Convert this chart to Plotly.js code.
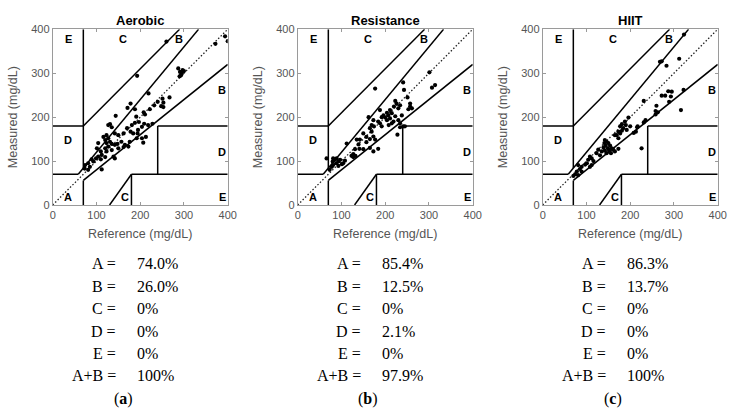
<!DOCTYPE html>
<html><head><meta charset="utf-8">
<script src="https://cdn.plot.ly/plotly-3.0.1.min.js"></script>
<style>html,body{margin:0;padding:0;background:#fff}#chart{width:736px;height:416px}</style>
</head><body><div id="chart"></div>
<script>
// ---- data ----
const panelTitles = ['Aerobic', 'Resistance', 'HIIT'];
const panelTags = ['a', 'b', 'c'];
const axisTicks = [0, 100, 200, 300, 400];

const aerobicRef = [260,193,372,394,400,287,291,295,293,297,290,300,219,251,240,253,248,232,222,253,178,171,188,208,211,144,191,188,197,181,209,204,218,228,131,135,127,170,178,184,194,195,162,150,142,204,207,213,192,123,127,116,120,131,135,123,148,157,165,176,173,162,150,142,127,120,104,101,110,123,135,112,104,99,110,120,89,93,81,85,74,73,112,81,142,139,267];
const aerobicMeas = [372,294,367,384,373,311,303,299,295,307,293,305,254,242,235,233,225,227,218,223,231,221,218,211,206,203,201,187,189,182,185,178,182,185,184,177,182,175,167,163,163,171,163,159,163,152,142,155,152,159,152,155,148,144,139,141,139,144,137,144,133,132,129,137,133,129,141,129,122,122,125,114,110,106,104,109,104,99,95,87,91,83,81,80,106,110,245];

const resistanceRef = [301,307,314,241,243,177,251,257,257,253,261,223,226,220,234,230,211,204,215,207,196,200,192,211,223,219,230,238,234,204,215,208,188,184,173,169,174,188,192,165,169,162,234,241,245,228,173,177,165,150,157,142,165,184,173,135,139,157,150,141,131,127,132,123,112,66,81,85,89,80,93,97,88,101,78,81,93,104,127,73,108];
const resistanceMeas = [302,267,273,279,262,265,245,231,224,218,220,237,231,224,227,220,216,210,209,204,204,199,200,197,202,190,193,204,186,193,186,182,216,190,193,182,179,186,179,175,167,200,177,179,179,160,156,149,150,163,155,149,130,128,122,149,138,143,127,128,127,116,112,112,140,106,106,103,106,99,99,103,95,93,87,91,89,95,109,80,101];

const hiitRef = [323,272,268,312,283,287,295,272,280,293,322,316,289,231,260,258,263,258,235,231,217,208,226,196,188,190,181,184,177,181,173,192,200,169,165,173,177,142,146,141,150,144,154,139,149,158,142,152,161,135,146,156,165,173,127,123,131,112,104,108,116,101,97,89,81,85,78,74,81,70,89,108,112,213,216];
const hiitMeas = [388,327,326,333,317,259,258,249,249,247,262,216,235,237,226,214,211,206,193,188,179,164,129,199,190,182,184,175,179,169,167,171,179,159,159,152,163,148,144,141,141,135,135,131,129,129,124,124,126,122,118,118,122,128,126,118,113,106,103,110,100,95,92,87,91,82,76,70,68,66,76,87,91,167,177];

// Clarke error grid boundaries (segments separated by null)
const gridX = [0,58.33,null,58.33,333.33,null,70,70,null,0,70,null,70,290,null,70,70,null,70,400,null,180,180,null,180,400,null,240,240,null,240,400,null,130,180];
const gridY = [70,70,null,70,400,null,84,400,null,180,180,null,180,400,null,0,56,null,56,320,null,0,70,null,70,70,null,70,180,null,180,180,null,0,70];
const diagX = [0, 400];
const diagY = [0, 400];

const zoneLabelText = ['A','C','E','D','D','B','B','C','E'];
const zoneLabelX = [35,166,388,35,388,388,289,160,36];
const zoneLabelY = [18,18,18,148,120,262,377,377,377];

const statLabels = ['A =','B =','C =','D =','E =','A+B ='];
const aerobicStats = ['74.0%','26.0%','0%','0%','0%','100%'];
const resistanceStats = ['85.4%','12.5%','0%','2.1%','0%','97.9%'];
const hiitStats = ['86.3%','13.7%','0%','0%','0%','100%'];

// ---- build ----
const W = 736, H = 416;
const panels = [
  {ref: aerobicRef, meas: aerobicMeas, stats: aerobicStats, x0: 52.7},
  {ref: resistanceRef, meas: resistanceMeas, stats: resistanceStats, x0: 297.7},
  {ref: hiitRef, meas: hiitMeas, stats: hiitStats, x0: 542.7}
];
const plotW = 175, plotTop = 29.3, plotBot = 205;
const statRows = [263, 286, 308, 331, 353, 375];
const tagRow = 399;
const serif = 'Liberation Serif, Times New Roman, serif';
const sans = 'Liberation Sans, Arial, sans-serif';

const traces = [];
const annotations = [];
const layout = {
  width: W, height: H,
  margin: {l: 0, r: 0, t: 0, b: 0},
  paper_bgcolor: '#fff', plot_bgcolor: '#fff',
  showlegend: false,
  font: {family: sans, color: '#555'},
  annotations: annotations
};

panels.forEach((p, i) => {
  const sfx = i === 0 ? '' : String(i + 1);
  const xa = 'x' + sfx, ya = 'y' + sfx;
  traces.push({x: diagX, y: diagY, xaxis: xa, yaxis: ya, mode: 'lines',
    line: {color: '#222', width: 1.3, dash: '1.5px,2px'}, hoverinfo: 'skip'});
  traces.push({x: gridX, y: gridY, xaxis: xa, yaxis: ya, mode: 'lines',
    line: {color: '#000', width: 1.5}, connectgaps: false, hoverinfo: 'skip'});
  traces.push({x: p.ref, y: p.meas, xaxis: xa, yaxis: ya, mode: 'markers',
    marker: {color: '#000', size: 4.2}});

  const common = {
    range: [0, 400], tickvals: axisTicks, ticktext: axisTicks.map(String),
    showgrid: false, zeroline: false, showline: true, mirror: 'ticks',
    linecolor: '#9a9a9a', linewidth: 1, ticks: 'inside', ticklen: 3, tickcolor: '#9a9a9a',
    tickfont: {size: 11, color: '#555', family: sans},
    fixedrange: true
  };
  layout['xaxis' + sfx] = Object.assign({}, common, {
    domain: [p.x0 / W, (p.x0 + plotW) / W], anchor: ya,
    title: {text: 'Reference (mg/dL)', font: {size: 12.5, color: '#555'}, standoff: 9}
  });
  layout['yaxis' + sfx] = Object.assign({}, common, {
    domain: [1 - plotBot / H, 1 - plotTop / H], anchor: xa,
    title: {text: 'Measured (mg/dL)', font: {size: 12.5, color: '#555'}, standoff: 10}
  });

  // panel title
  annotations.push({xref: 'paper', yref: 'paper', x: (p.x0 + plotW / 2) / W, y: 1 - 20 / H,
    text: '<b>' + panelTitles[i] + '</b>', showarrow: false, xanchor: 'center', yanchor: 'middle',
    font: {size: 13, color: '#000', family: sans}});
  // zone letters
  zoneLabelText.forEach((t, k) => {
    annotations.push({xref: xa, yref: ya, x: zoneLabelX[k], y: zoneLabelY[k], text: '<b>' + t + '</b>',
      showarrow: false, xanchor: 'center', yanchor: 'middle',
      font: {size: 11, color: '#000', family: sans}});
  });
  // stats block
  const off = p.x0 - 52.7;
  statLabels.forEach((lab, k) => {
    annotations.push({xref: 'paper', yref: 'paper', x: (118 + off) / W, y: 1 - statRows[k] / H,
      text: lab, showarrow: false, xanchor: 'right', yanchor: 'middle',
      font: {size: 16, color: '#000', family: serif}});
    annotations.push({xref: 'paper', yref: 'paper', x: (135 + off) / W, y: 1 - statRows[k] / H,
      text: p.stats[k], showarrow: false, xanchor: 'left', yanchor: 'middle',
      font: {size: 16, color: '#000', family: serif}});
  });
  annotations.push({xref: 'paper', yref: 'paper', x: (123 + off) / W, y: 1 - tagRow / H,
    text: '(<b>' + panelTags[i] + '</b>)', showarrow: false, xanchor: 'center', yanchor: 'middle',
    font: {size: 16, color: '#000', family: serif}});
});

Plotly.newPlot('chart', traces, layout, {displayModeBar: false, staticPlot: true});
</script>
</body></html>
